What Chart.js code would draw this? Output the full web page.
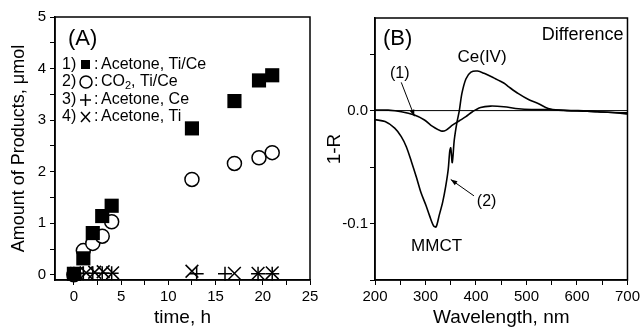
<!DOCTYPE html>
<html>
<head>
<meta charset="utf-8">
<script src="https://cdn.jsdelivr.net/npm/chart.js@4/dist/chart.umd.min.js"></script>
<style>
html, body { margin: 0; padding: 0; background: #fff; }
#chartA { position: absolute; left: 0; top: 0; }
#chartB { position: absolute; left: 322px; top: 0; }
</style>
</head>
<body>
<canvas id="chartA" width="322" height="327"></canvas>
<canvas id="chartB" width="321" height="327"></canvas>
<script>
// ---- panel (A): products vs irradiation time ----
var timeTiCe    = [0, 1, 2, 3, 4, 12.5, 17, 19.6, 21];
var acetoneTiCe = [0.02, 0.32, 0.81, 1.14, 1.34, 2.84, 3.37, 3.77, 3.87];
var co2TiCe     = [0.0, 0.47, 0.61, 0.75, 1.03, 1.85, 2.16, 2.27, 2.37];
var timeCe      = [0, 1, 2, 3, 4, 13, 16, 19.5, 21];
var acetoneCe   = [0.02, 0.03, 0.03, 0.03, 0.03, 0.02, 0.02, 0.02, 0.02];
var timeTi      = [0.3, 1.3, 2.2, 3.1, 4.1, 12.5, 17, 19.5, 21];
var acetoneTi   = [0.03, 0.04, 0.05, 0.06, 0.04, 0.07, 0.03, 0.03, 0.04];
var ticksTime   = [0, 2.5, 5, 7.5, 10, 12.5, 15, 17.5, 20, 22.5, 25];
var ticksAmount = [0, 0.5, 1, 1.5, 2, 2.5, 3, 3.5, 4, 4.5, 5];

// ---- panel (B): difference reflectance spectra ----
var wl1 = [200, 226, 252, 278, 298, 314, 331, 340, 354, 367, 380, 393, 409, 429, 455, 484, 510, 543, 580, 620, 660, 700];
var r1  = [0.0005, 0.0004, -0.001, -0.004, -0.0083, -0.014, -0.018, -0.0175, -0.0127, -0.009, -0.0054, -0.001, 0.0028, 0.004, 0.0034, 0.0016, 0.001, 0.001, 0.0, -0.0005, -0.0015, -0.002];
var wl2 = [200, 220, 239, 252, 262, 272, 282, 291, 301, 308, 316, 321, 327, 334, 340, 345, 348, 350, 353, 357, 362, 367, 372, 380, 390, 403, 416, 435, 455, 465, 484, 504, 523, 543, 563, 602, 641, 680, 700];
var r2  = [-0.008, -0.0097, -0.0155, -0.023, -0.032, -0.045, -0.059, -0.0725, -0.084, -0.093, -0.102, -0.103, -0.093, -0.081, -0.067, -0.052, -0.036, -0.033, -0.046, -0.026, -0.011, 0.0, 0.015, 0.028, 0.034, 0.035, 0.033, 0.029, 0.0244, 0.021, 0.015, 0.0098, 0.0063, 0.0019, 0.0004, 0.0, -0.001, -0.002, -0.003];
var wlZero = [200, 700];
var ticksWl = [200, 250, 300, 350, 400, 450, 500, 550, 600, 650, 700];
var ticksR  = [-0.15, -0.1, -0.05, 0, 0.05];

var FONT = '"Liberation Sans", Arial, sans-serif';

function pts(xs, ys) {
    return xs.map(function (x, i) { return {x: x, y: ys[i]}; });
}

function setTicks(values) {
    return function (scale) {
        scale.ticks = values.map(function (v) { return {value: v}; });
    };
}

var boxPlugin = {
    id: 'box',
    afterDraw: function (chart) {
        var a = chart.chartArea, ctx = chart.ctx;
        ctx.save();
        ctx.strokeStyle = '#000';
        ctx.lineWidth = 1.5;
        ctx.strokeRect(a.left, a.top, a.right - a.left, a.bottom - a.top);
        ctx.restore();
    }
};

var legendA = {
    id: 'legendA',
    afterDraw: function (chart) {
        var ctx = chart.ctx;
        ctx.save();
        ctx.fillStyle = '#000';
        ctx.strokeStyle = '#000';
        ctx.textBaseline = 'middle';
        ctx.font = '22px ' + FONT;
        ctx.fillText('(A)', 68, 39);

        ctx.font = '16px ' + FONT;
        var rows = [65, 82, 100, 117];
        ['1)', '2)', '3)', '4)'].forEach(function (t, i) {
            ctx.fillText(t, 62, rows[i]);
            ctx.fillText(':', 94, rows[i]);
        });
        // markers
        ctx.fillRect(81, rows[0] - 5, 9, 9);
        ctx.lineWidth = 1.5;
        ctx.beginPath();
        ctx.arc(86, rows[1], 6, 0, Math.PI * 2);
        ctx.stroke();
        ctx.beginPath();
        ctx.moveTo(80, rows[2]); ctx.lineTo(91, rows[2]);
        ctx.moveTo(85.5, rows[2] - 6); ctx.lineTo(85.5, rows[2] + 6);
        ctx.moveTo(81, rows[3] - 5); ctx.lineTo(90, rows[3] + 5);
        ctx.moveTo(81, rows[3] + 5); ctx.lineTo(90, rows[3] - 5);
        ctx.stroke();

        var tx = 101;
        ctx.fillText('Acetone, Ti/Ce', tx, rows[0]);
        ctx.fillText('CO', tx, rows[1]);
        var w = ctx.measureText('CO').width;
        ctx.font = '11px ' + FONT;
        ctx.fillText('2', tx + w, rows[1] + 4);
        var w2 = ctx.measureText('2').width;
        ctx.font = '16px ' + FONT;
        ctx.fillText(', Ti/Ce', tx + w + w2, rows[1]);
        ctx.fillText('Acetone, Ce', tx, rows[2]);
        ctx.fillText('Acetone, Ti', tx, rows[3]);
        ctx.restore();
    }
};

function arrow(ctx, x0, y0, x1, y1) {
    var ang = Math.atan2(y1 - y0, x1 - x0), L = 7;
    ctx.beginPath();
    ctx.moveTo(x0, y0);
    ctx.lineTo(x1, y1);
    ctx.stroke();
    ctx.beginPath();
    ctx.moveTo(x1, y1);
    ctx.lineTo(x1 - L * Math.cos(ang - 0.35), y1 - L * Math.sin(ang - 0.35));
    ctx.lineTo(x1 - L * Math.cos(ang + 0.35), y1 - L * Math.sin(ang + 0.35));
    ctx.closePath();
    ctx.fill();
}

var notesB = {
    id: 'notesB',
    afterDraw: function (chart) {
        var ctx = chart.ctx, a = chart.chartArea;
        var sx = chart.scales.x, sy = chart.scales.y;
        function px(x) { return sx.getPixelForValue(x); }
        function py(y) { return sy.getPixelForValue(y); }
        ctx.save();
        ctx.fillStyle = '#000';
        ctx.strokeStyle = '#000';
        ctx.lineWidth = 1;
        ctx.textBaseline = 'middle';
        ctx.textAlign = 'left';
        ctx.font = '22px ' + FONT;
        ctx.fillText('(B)', a.left + 8, a.top + 21);
        ctx.textAlign = 'right';
        ctx.font = '18px ' + FONT;
        ctx.fillText('Difference', a.right - 4, a.top + 17);
        ctx.textAlign = 'center';
        ctx.font = '17px ' + FONT;
        ctx.fillText('Ce(IV)', px(412), py(0.047));
        ctx.fillText('MMCT', px(322), py(-0.1206));
        ctx.font = '16px ' + FONT;
        ctx.fillText('(1)', px(249), py(0.0332));
        ctx.fillText('(2)', px(421), py(-0.0808));
        arrow(ctx, px(252), py(0.025), px(278), py(-0.005));
        arrow(ctx, px(396), py(-0.0755), px(350), py(-0.061));
        ctx.restore();
    }
};

var tickFont = {family: FONT, size: 15};
var titleFont = {family: FONT, size: 19, lineHeight: 1};

new Chart(document.getElementById('chartA'), {
    type: 'scatter',
    data: {
        datasets: [
            {
                label: 'Acetone, Ti/Ce',
                data: pts(timeTiCe, acetoneTiCe),
                pointStyle: 'rect',
                pointRadius: 10,
                backgroundColor: '#000',
                borderColor: '#000',
                borderWidth: 0,
                clip: false,
                order: 1
            },
            {
                label: 'CO2, Ti/Ce',
                data: pts(timeTiCe, co2TiCe),
                pointStyle: 'circle',
                pointRadius: 7,
                backgroundColor: '#fff',
                borderColor: '#000',
                borderWidth: 1.5,
                clip: false,
                order: 2
            },
            {
                label: 'Acetone, Ce',
                data: pts(timeCe, acetoneCe),
                pointStyle: 'cross',
                pointRadius: 7,
                borderColor: '#000',
                borderWidth: 1.5,
                clip: false,
                order: 3
            },
            {
                label: 'Acetone, Ti',
                data: pts(timeTi, acetoneTi),
                pointStyle: 'crossRot',
                pointRadius: 9,
                borderColor: '#000',
                borderWidth: 1.5,
                clip: false,
                order: 3
            }
        ]
    },
    options: {
        responsive: false,
        animation: false,
        layout: {padding: {top: 17, right: 12, left: 0, bottom: 0}},
        plugins: {legend: {display: false}, tooltip: {enabled: false}},
        scales: {
            x: {
                type: 'linear',
                min: -2,
                max: 25,
                afterBuildTicks: setTicks(ticksTime),
                afterFit: function (s) { s.height = 47; },
                grid: {drawOnChartArea: false, drawTicks: true, tickLength: 5, color: '#000'},
                border: {display: true, color: '#000', width: 1.5},
                ticks: {
                    color: '#000', font: tickFont, padding: 3, maxRotation: 0, autoSkip: false,
                    callback: function (v) { return v % 5 === 0 ? String(v) : ''; }
                },
                title: {display: true, text: 'time, h', color: '#000', font: titleFont, padding: {top: 0, bottom: 0}}
            },
            y: {
                type: 'linear',
                min: -0.1,
                max: 5,
                afterBuildTicks: setTicks(ticksAmount),
                afterFit: function (s) { s.width = 55; },
                grid: {drawOnChartArea: false, drawTicks: true, tickLength: 5, color: '#000'},
                border: {display: true, color: '#000', width: 1.5},
                ticks: {
                    color: '#000', font: tickFont, padding: 4, autoSkip: false,
                    callback: function (v) { return v % 1 === 0 ? String(v) : ''; }
                },
                title: {display: true, text: 'Amount of Products, \u03bcmol', color: '#000',
                        font: {family: FONT, size: 18, lineHeight: 1.2}, padding: {top: 8, bottom: 0}}
            }
        }
    },
    plugins: [boxPlugin, legendA]
});

new Chart(document.getElementById('chartB'), {
    type: 'scatter',
    data: {
        datasets: [
            {
                label: 'zero',
                data: pts(wlZero, [0, 0]),
                showLine: true,
                pointRadius: 0,
                borderColor: '#000',
                borderWidth: 1
            },
            {
                label: '(1)',
                data: pts(wl1, r1),
                showLine: true,
                pointRadius: 0,
                tension: 0.3,
                borderColor: '#000',
                borderWidth: 1.6
            },
            {
                label: '(2)',
                data: pts(wl2, r2),
                showLine: true,
                pointRadius: 0,
                tension: 0.3,
                borderColor: '#000',
                borderWidth: 1.6
            }
        ]
    },
    options: {
        responsive: false,
        animation: false,
        layout: {padding: {top: 18, right: 13, left: 0, bottom: 0}},
        plugins: {legend: {display: false}, tooltip: {enabled: false}},
        scales: {
            x: {
                type: 'linear',
                min: 200,
                max: 700,
                afterBuildTicks: setTicks(ticksWl),
                afterFit: function (s) { s.height = 47; },
                grid: {drawOnChartArea: false, drawTicks: true, tickLength: 5, color: '#000'},
                border: {display: true, color: '#000', width: 1.5},
                ticks: {
                    color: '#000', font: tickFont, padding: 3, maxRotation: 0, autoSkip: false,
                    callback: function (v) { return v % 100 === 0 ? String(v) : ''; }
                },
                title: {display: true, text: 'Wavelength, nm', color: '#000', font: titleFont, padding: {top: 0, bottom: 0}}
            },
            y: {
                type: 'linear',
                min: -0.15,
                max: 0.082,
                afterBuildTicks: setTicks(ticksR),
                afterFit: function (s) { s.width = 53; },
                grid: {drawOnChartArea: false, drawTicks: true, tickLength: 5, color: '#000'},
                border: {display: true, color: '#000', width: 1.5},
                ticks: {
                    color: '#000', font: tickFont, padding: 2, autoSkip: false,
                    callback: function (v) {
                        if (Math.abs(v) < 1e-9) return '0.0';
                        if (Math.abs(v + 0.1) < 1e-9) return '-0.1';
                        return '';
                    }
                },
                title: {display: true, text: '1-R', color: '#000',
                        font: {family: FONT, size: 19, lineHeight: 1.2}, padding: {top: 1, bottom: 0}}
            }
        }
    },
    plugins: [boxPlugin, notesB]
});
</script>
</body>
</html>
